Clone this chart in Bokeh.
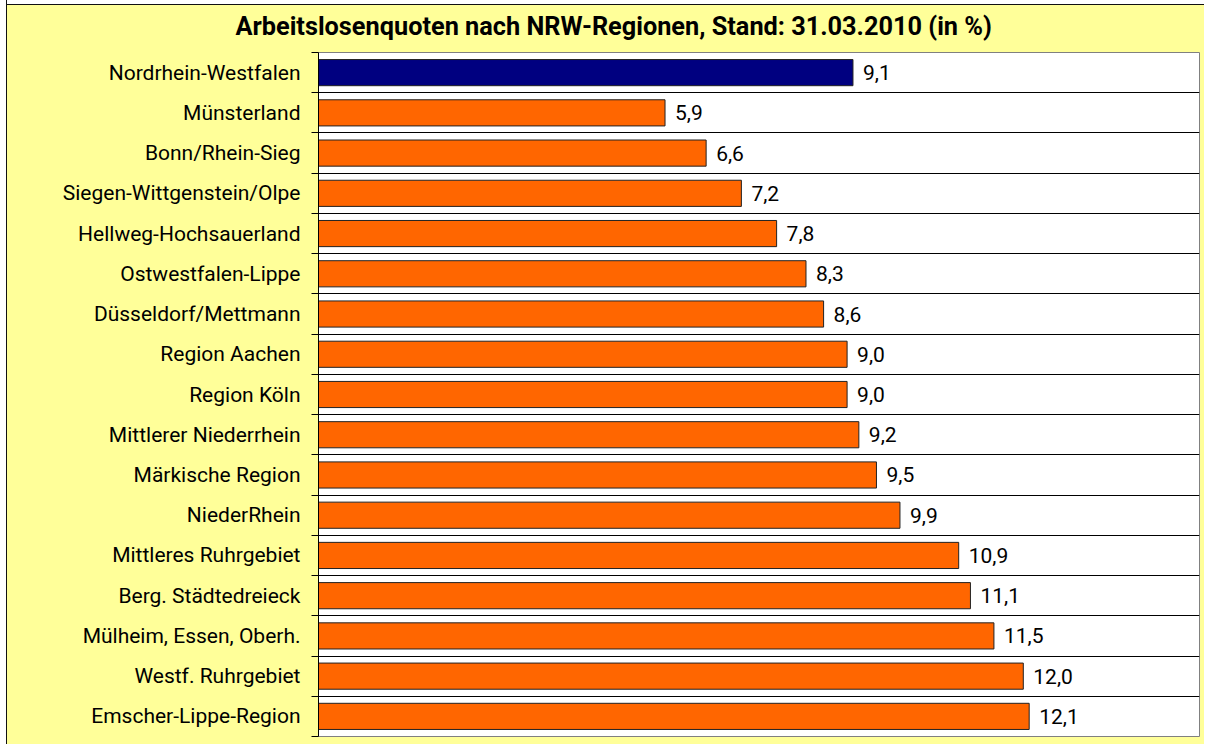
from bokeh.plotting import figure
from bokeh.models import Range1d, FixedTicker, CustomJSTickFormatter, ColumnDataSource
from bokeh.core.properties import value
from bokeh.embed import file_html
from bokeh.resources import INLINE

title_text = "Arbeitslosenquoten nach NRW-Regionen, Stand: 31.03.2010 (in %)"
regions = [
    "Nordrhein-Westfalen",
    "Münsterland",
    "Bonn/Rhein-Sieg",
    "Siegen-Wittgenstein/Olpe",
    "Hellweg-Hochsauerland",
    "Ostwestfalen-Lippe",
    "Düsseldorf/Mettmann",
    "Region Aachen",
    "Region Köln",
    "Mittlerer Niederrhein",
    "Märkische Region",
    "NiederRhein",
    "Mittleres Ruhrgebiet",
    "Berg. Städtedreieck",
    "Mülheim, Essen, Oberh.",
    "Westf. Ruhrgebiet",
    "Emscher-Lippe-Region",
]
rates = [9.1, 5.9, 6.6, 7.2, 7.8, 8.3, 8.6, 9.0, 9.0, 9.2, 9.5, 9.9, 10.9, 11.1, 11.5, 12.0, 12.1]

NAVY = "#000080"
ORANGE = "#FF6600"
BG = "#FFFF99"
FONT = "Roboto"

n = len(regions)
ys = [n - i - 0.5 for i in range(n)]
colors = [NAVY if i == 0 else ORANGE for i in range(n)]
labels = [f"{v:.1f}".replace(".", ",") for v in rates]
labels_bottom_up = list(reversed(regions))

src = ColumnDataSource(dict(y=ys, rate=rates, color=colors, label=labels))

p = figure(width=1198, height=744, x_range=Range1d(0, 15), y_range=Range1d(0, n),
           output_backend="svg", toolbar_location=None, x_axis_location=None,
           min_border_left=311, min_border_right=6, min_border_top=52, min_border_bottom=8,
           background_fill_color="white", border_fill_color=BG, border_fill_alpha=0)
p.styles = {
    "margin-left": "6px",
    "border-left": "1px solid #111111",
    "background": "linear-gradient(to bottom, #ffffff 0px, #ffffff 4px, #111111 4px, "
                  "#111111 5px, #FFFF99 5px, #FFFF99 100%)",
}

p.hbar(y="y", left=0, right="rate", height=0.65, fill_color="color",
       line_color="#222222", line_width=1, source=src)
p.text(x="rate", y="y", text="label", x_offset=10, text_baseline="middle",
       text_align="left", text_font=value(FONT), text_font_size="21px",
       text_color="black", source=src)

ax = p.yaxis[0]
ax.ticker = FixedTicker(ticks=[i + 0.5 for i in range(n)], minor_ticks=list(range(n + 1)))
ax.formatter = CustomJSTickFormatter(args=dict(labels=labels_bottom_up),
                                     code="return labels[Math.floor(tick)] || '';")
ax.major_tick_out = 0
ax.major_tick_in = 0
ax.minor_tick_out = 7
ax.minor_tick_in = 0
ax.minor_tick_line_color = "black"
ax.axis_line_color = "black"
ax.major_label_standoff = 11
ax.major_label_text_font = FONT
ax.major_label_text_font_size = "21px"
ax.major_label_text_color = "black"

p.xgrid.visible = False
p.ygrid.grid_line_color = None
p.ygrid.minor_grid_line_color = "black"
p.outline_line_color = "#808080"

p.title.text = title_text
p.title.text_font = FONT
p.title.text_font_style = "bold"
p.title.text_font_size = "25.3px"
p.title.align = "left"
p.title.vertical_align = "top"
p.title.offset = -83
p.title.standoff = 20
p.title.text_color = "black"

open("out.html", "w").write(file_html(p, INLINE))
